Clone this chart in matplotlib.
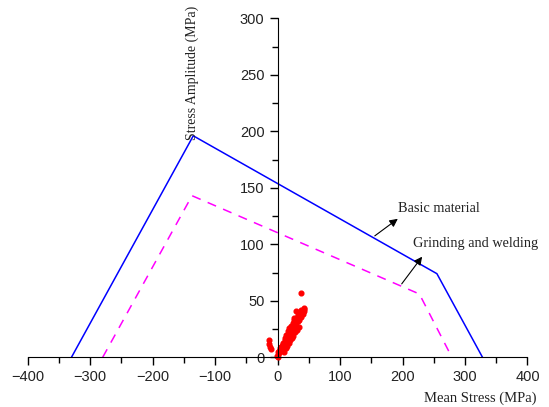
import matplotlib
matplotlib.use('Agg')
import matplotlib.pyplot as plt

# Haigh diagram envelopes (mean stress, stress amplitude), MPa
basic_x = [-330, -135, 255, 328]
basic_y = [0, 196, 74, 0]
weld_x = [-280, -137, 227, 279]
weld_y = [0, 143, 56, 0]

# measured stress cycles
cyc_x = [0, -1.5, 1, 2, 3, 4, 5, 6, 7, 8, 9, 10, 11, 12, 13, 14, 15, 16, 17, 18,
         19, 20, 21, 22, 23, 24, 25, 26, 27, 28, 29, 30, 31, 32, 33, 34, 35, 36,
         37, 38, 39, 40, 41, 42, 6, 9, 12, 14, 16, 19, 21, 24, 27, 30, 33, 36,
         10, 13, 15, 18, 20, 23, 25, 28, 31, 34, -14, -13, -12, -11, 30, 26,
         38, 42, 43, 38]
cyc_y = [0, 1.5, 5, 4, 6, 8, 7, 9, 10, 8, 12, 11, 13, 15, 14, 17, 16, 19, 18, 21,
         20, 23, 22, 25, 24, 27, 26, 28, 30, 29, 31, 30, 33, 32, 34, 33, 35, 36,
         37, 36, 39, 38, 40, 41, 9, 13, 17, 20, 23, 26, 28, 30, 33, 35, 37, 39,
         5, 8, 10, 13, 15, 17, 19, 22, 24, 27, 15, 12, 9, 7, 41, 35,
         42, 44, 43, 56.5]

fig = plt.figure(figsize=(5.49, 4.07), dpi=100)
ax = fig.add_axes([0.0505, 0.1221, 0.9103, 0.8330])

ax.plot(basic_x, basic_y, color='#0000ff', lw=1.1)
ax.plot(weld_x, weld_y, color='#ff00ff', lw=1.1, ls=(0, (6, 5)))
ax.plot(cyc_x, cyc_y, 'o', color='#ff0000', ms=3.4, mec='#ff0000', clip_on=False)

ax.set_xlim(-400, 400)
ax.set_ylim(0, 300)

ax.spines['left'].set_position(('data', 0))
ax.spines['bottom'].set_position(('data', 0))
ax.spines['top'].set_visible(False)
ax.spines['right'].set_visible(False)

ax.set_xticks(range(-400, 401, 100))
ax.set_xticks(range(-350, 400, 100), minor=True)
ax.set_yticks(range(0, 301, 50))
ax.set_yticks(range(25, 300, 50), minor=True)
ax.tick_params(which='major', length=6, width=1, labelsize=10.5, direction='out',
               labelcolor='#222222')
ax.tick_params(which='minor', length=4, width=1, direction='out')
for lab in ax.get_xticklabels() + ax.get_yticklabels():
    lab.set_fontfamily('Liberation Sans')

ax.text(-136, 252, 'Stress Amplitude (MPa)', rotation=90, ha='center', va='center',
        fontsize=10, family='Liberation Serif', color='#222222')
fig.text(0.874, 0.022, 'Mean Stress (MPa)', ha='center', va='center',
         fontsize=10.5, family='Liberation Serif', color='#222222')

ax.annotate('', xy=(196, 124), xytext=(152, 106),
            arrowprops=dict(arrowstyle='-|>', color='black', lw=0.8, mutation_scale=12))
ax.text(193, 132, 'Basic material', ha='left', va='center', fontsize=10.3,
        family='Liberation Serif', color='#222222')
ax.annotate('', xy=(234, 91), xytext=(196, 63),
            arrowprops=dict(arrowstyle='-|>', color='black', lw=0.8, mutation_scale=12))
ax.text(217, 101, 'Grinding and welding', ha='left', va='center', fontsize=10.3,
        family='Liberation Serif', color='#222222')

fig.savefig('out.png', dpi=100)
